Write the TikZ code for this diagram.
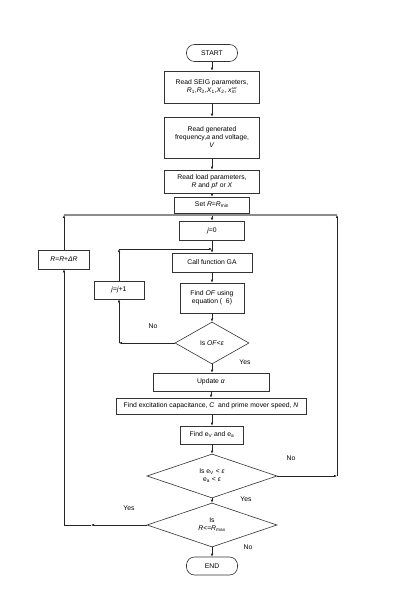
\documentclass[tikz,border=0pt]{standalone}
\usepackage{fontspec}
\setmainfont{Liberation Sans}
\usetikzlibrary{arrows.meta,shapes.geometric}
\newcommand{\fs}{\fontsize{6.8}{8}\selectfont}
\begin{document}
\begin{tikzpicture}[x=1pt,y=-1pt,
  every node/.style={font=\fs},
  box/.style={draw=black!80,line width=0.6pt,rectangle,align=center,inner sep=1pt,anchor=center},
  term/.style={box,rounded corners=8pt},
  dec/.style={draw=black!80,line width=0.6pt,diamond,align=center,inner sep=0pt,anchor=center},
  arr/.style={draw=black!85,line width=0.6pt,-{Latex[length=3pt,width=2.6pt]}},
  ln/.style={draw=black!85,line width=0.6pt},
  gln/.style={draw=black!45,line width=1.1pt},
  lab/.style={inner sep=0pt}]
\useasboundingbox (0,0) rectangle (400,609);
\fill[white] (0,0) rectangle (400,609);

\node[term,minimum width=51pt,minimum height=17pt] (start) at (212,53) {START};
\node[box,minimum width=95pt,minimum height=32pt] (seig) at (212,87)
  {Read SEIG parameters,\\ \textit{R}\textsubscript{1},\textit{R}\textsubscript{2},\textit{X}\textsubscript{1},\textit{X}\textsubscript{2}, \textit{x}\rlap{\textsubscript{\textit{m}}}\textsuperscript{\fontsize{3.5}{4}\selectfont\textit{sat}}};
\node[box,minimum width=95pt,minimum height=41pt] (gen) at (212,137.5)
  {Read generated\\ frequency,\textit{a} and voltage,\\ \textit{V}};
\node[box,minimum width=95pt,minimum height=23pt] (load) at (212,181.5)
  {Read load parameters,\\ \textit{R} and \textit{pf} or \textit{X}};
\node[box,minimum width=75pt,minimum height=16pt] (set) at (212,205)
  {Set \textit{R}=\textit{R}\textsubscript{min}};
\node[box,minimum width=65pt,minimum height=19pt] (j0) at (212,230.5) {\textit{j}=0};
\node[box,minimum width=80pt,minimum height=19pt] (call) at (212,262.5) {Call function GA};
\node[box,minimum width=64pt,minimum height=30pt] (findof) at (212,298)
  {Find \textit{OF} using\\ equation (\ \ 6)};
\node[box,minimum width=50pt,minimum height=18pt] (jj) at (119,290) {\textit{j}=\textit{j}+1};
\node[box,minimum width=51pt,minimum height=19pt] (rr) at (64,259.5) {\textit{R}=\textit{R}+\textit{ΔR}};
\node[dec,minimum width=74pt,minimum height=42pt,aspect=1.8] (dec1) at (212,343) {Is \textit{OF}<\textit{ε}};
\node[box,minimum width=116pt,minimum height=18pt] (upd) at (211,382) {Update \textit{α}};
\node[box,minimum width=190pt,minimum height=16pt] (exc) at (211,406)
  {Find excitation capacitance, \textit{C}\ \ and prime mover speed, \textit{N}};
\node[box,minimum width=63pt,minimum height=18pt] (finde) at (212,435)
  {Find e\textsubscript{V} and e\textsubscript{a}};
\node[dec,minimum width=130pt,minimum height=44pt,aspect=3] (dec2) at (212,476)
  {Is e\textsubscript{V} < \textit{ε}\\ e\textsubscript{a} < \textit{ε}};
\node[dec,minimum width=130pt,minimum height=44pt,aspect=3] (dec3) at (212,525)
  {Is\\ \textit{R}<=\textit{R}\textsubscript{max}};
\node[term,minimum width=51pt,minimum height=18pt] (end) at (212,566) {END};

% main flow
\draw[arr] (start) -- (seig);
\draw[arr] (seig) -- (gen);
\draw[arr] (gen) -- (load);
\draw[arr] (load) -- (set);
\draw[arr] (set) -- (j0);
\draw[arr] (j0) -- (call);
\draw[arr] (call) -- (findof);
\draw[arr] (findof) -- (dec1);
\draw[arr] (dec1.south) -- (dec1.south |- upd.north);
\draw[arr] (upd.south) -- (upd.south |- exc.north);
\draw[arr] (exc.south -| finde.north) -- (finde.north);
\draw[arr] (finde) -- (dec2);
\draw[arr] (dec2) -- (dec3);
\draw[arr] (dec3) -- (end);

% inner loop j
\coordinate (c1) at (jj |- dec1.west);
\coordinate (c2) at (212,249);
\coordinate (c3) at (jj |- c2);
\draw[arr] (dec1.west) -- (c1);
\draw[arr] (c1) -- (jj.south);
\draw[arr] (jj.north) -- (c3);
\draw[arr] (c3) -- (c2);

% outer loops
\coordinate (t1) at (64,215);
\coordinate (t2) at (337,215);
\coordinate (r1) at (t2 |- dec2.east);
\coordinate (m1) at (91,525);
\coordinate (l1) at (rr |- dec3.west);
\draw[gln] (t1) -- (t2);
\draw[arr] (dec2.east) -- (r1);
\draw[arr] (r1) -- (t2);
\draw[arr] (dec3.west) -- (m1);
\draw[ln] (m1) -- (l1);
\draw[arr] (l1) -- (rr.south);
\draw[arr] (rr.north) -- (t1);

% labels
\node[lab] (n1) at (153,326) {No};
\node[lab] (y1) at (245,362) {Yes};
\node[lab] (n2) at (291,458) {No};
\node[lab] (y2) at (246,499) {Yes};
\node[lab] (y3) at (129,508) {Yes};
\node[lab] (n3) at (248,547) {No};
\end{tikzpicture}
\end{document}
